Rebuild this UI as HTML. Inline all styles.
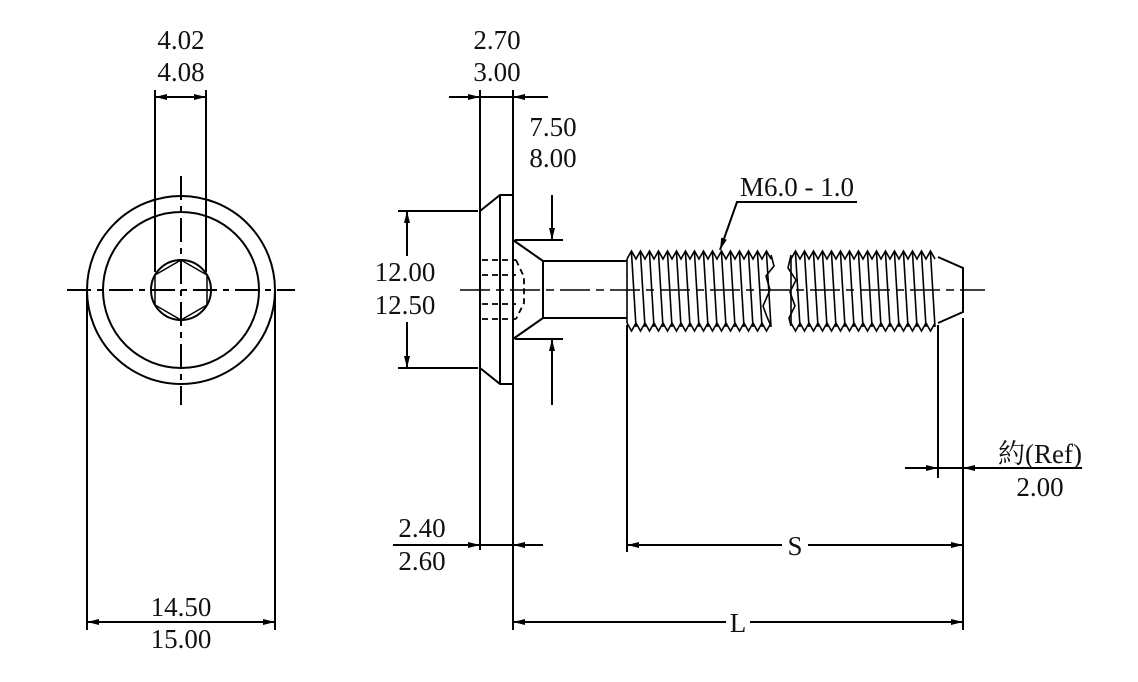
<!DOCTYPE html>
<html><head><meta charset="utf-8"><style>
html,body{margin:0;padding:0;background:#fff;}
svg{display:block}
text{font-family:"Liberation Serif","Noto Serif CJK SC",serif;font-size:27px;fill:#111;}
</style></head><body>
<svg id="s" width="1138" height="682" viewBox="0 0 1138 682" xmlns="http://www.w3.org/2000/svg">
<defs>
<marker id="a" viewBox="0 0 12 6" refX="12" refY="3" markerWidth="12" markerHeight="6" orient="auto-start-reverse" markerUnits="userSpaceOnUse"><path d="M0,0 L12,3 L0,6 z" fill="#000"/></marker>
</defs>
<g stroke="#000" stroke-width="2" fill="none">
<circle cx="181" cy="290" r="94"/>
<circle cx="181" cy="290" r="78"/>
<circle cx="181" cy="290" r="30"/>
<polygon points="181,260 207,275 207,305 181,320 155,305 155,275" stroke-width="1.5"/>
<line x1="67" y1="290" x2="295" y2="290" stroke-dasharray="24,6,6,6"/>
<line x1="181" y1="176" x2="181" y2="405" stroke-dasharray="24,6,6,6"/>
<line x1="155" y1="90" x2="155" y2="272"/>
<line x1="206" y1="90" x2="206" y2="272"/>
<line x1="155" y1="97" x2="206" y2="97" marker-start="url(#a)" marker-end="url(#a)"/>
<line x1="87" y1="290" x2="87" y2="630"/>
<line x1="275" y1="290" x2="275" y2="630"/>
<line x1="87" y1="622" x2="275" y2="622" marker-start="url(#a)" marker-end="url(#a)"/>

<line x1="480" y1="90" x2="480" y2="550"/>
<line x1="513" y1="90" x2="513" y2="630"/>
<polyline points="480,211 500,195 513,195"/>
<polyline points="480,368 500,384 513,384"/>
<line x1="500" y1="195" x2="500" y2="384"/>
<line x1="398" y1="211" x2="478" y2="211"/>
<line x1="398" y1="368" x2="478" y2="368"/>
<line x1="407" y1="256" x2="407" y2="211" marker-end="url(#a)"/>
<line x1="407" y1="322" x2="407" y2="368" marker-end="url(#a)"/>
<g stroke-dasharray="6,4" stroke-width="1.8">
<line x1="482" y1="260" x2="516" y2="260"/>
<line x1="482" y1="275" x2="516" y2="275"/>
<line x1="482" y1="304" x2="516" y2="304"/>
<line x1="482" y1="319" x2="516" y2="319"/>
<polyline points="516,260 524,277 524,303 516,319"/>
</g>
<polyline points="513,240 543,261 627,261"/>
<polyline points="513,339 543,318 627,318"/>
<line x1="543" y1="261" x2="543" y2="318"/>
<line x1="515" y1="240" x2="563" y2="240"/>
<line x1="515" y1="339" x2="563" y2="339"/>
<line x1="552" y1="195" x2="552" y2="240" marker-end="url(#a)"/>
<line x1="552" y1="405" x2="552" y2="339" marker-end="url(#a)"/>
<line x1="449" y1="97" x2="480" y2="97" marker-end="url(#a)"/>
<line x1="480" y1="97" x2="513" y2="97"/>
<line x1="548" y1="97" x2="513" y2="97" marker-end="url(#a)"/>
<line x1="393" y1="545" x2="480" y2="545" marker-end="url(#a)"/>
<line x1="480" y1="545" x2="513" y2="545"/>
<line x1="543" y1="545" x2="513" y2="545" marker-end="url(#a)"/>

<g id="th" stroke-width="1.6"></g>
<polyline points="938,257 963,268 963,312 938,323"/>
<line x1="460" y1="290" x2="985" y2="290" stroke-dasharray="30,6,8,6" stroke-width="1.6"/>

<polyline points="857,202 737,202 720,250" marker-end="url(#a)"/>

<line x1="627" y1="325" x2="627" y2="552"/>
<line x1="963" y1="318" x2="963" y2="630"/>
<line x1="938" y1="325" x2="938" y2="478"/>
<line x1="905" y1="468" x2="938" y2="468" marker-end="url(#a)"/>
<line x1="938" y1="468" x2="963" y2="468"/>
<line x1="1082" y1="468" x2="963" y2="468" marker-end="url(#a)"/>
<line x1="627" y1="545" x2="963" y2="545" marker-start="url(#a)" marker-end="url(#a)"/>
<line x1="513" y1="622" x2="963" y2="622" marker-start="url(#a)" marker-end="url(#a)"/>
</g>
<rect x="782" y="533" width="26" height="24" fill="#fff"/>
<rect x="726" y="610" width="24" height="24" fill="#fff"/>
<text x="181" y="49" text-anchor="middle">4.02</text>
<text x="181" y="81" text-anchor="middle">4.08</text>
<text x="181" y="616" text-anchor="middle">14.50</text>
<text x="181" y="648" text-anchor="middle">15.00</text>
<text x="497" y="49" text-anchor="middle">2.70</text>
<text x="497" y="81" text-anchor="middle">3.00</text>
<text x="553" y="136" text-anchor="middle">7.50</text>
<text x="553" y="167" text-anchor="middle">8.00</text>
<text x="405" y="281" text-anchor="middle">12.00</text>
<text x="405" y="314" text-anchor="middle">12.50</text>
<text x="422" y="537" text-anchor="middle">2.40</text>
<text x="422" y="570" text-anchor="middle">2.60</text>
<text x="740" y="196">M6.0 - 1.0</text>
<text x="1040" y="463" text-anchor="middle">約(Ref)</text>
<text x="1040" y="496" text-anchor="middle">2.00</text>
<text x="795" y="555" text-anchor="middle">S</text>
<text x="738" y="632" text-anchor="middle">L</text>
</svg>
<script>
(function(){
var g=document.getElementById('th'),ns='http://www.w3.org/2000/svg';
function add(tag,at){var e=document.createElementNS(ns,tag);for(var k in at)e.setAttribute(k,at[k]);g.appendChild(e);}
function seg(x0,x1){
 var p=9,t='',b='';
 for(var x=x0;x<=x1+0.1;x+=p/2){var i=Math.round((x-x0)/(p/2));t+=x+','+(i%2?251:259)+' ';b+=x+','+(i%2?331:323)+' ';}
 add('polyline',{points:t});add('polyline',{points:b});
 for(var x=x0;x<x1;x+=p){var xb=x+9; if(xb>x1)break; add('line',{x1:x+4.5,y1:253,x2:xb,y2:327});}
 add('line',{x1:x0,y1:259,x2:x0,y2:323});
}
seg(627,771);seg(791,938);
add('polyline',{points:'771,255 774,266 766,276 770,290 763,306 767,317 771,326'});
add('polyline',{points:'791,255 788,268 796,280 790,292 795,306 789,318 791,326'});
})();
</script>
</body></html>
